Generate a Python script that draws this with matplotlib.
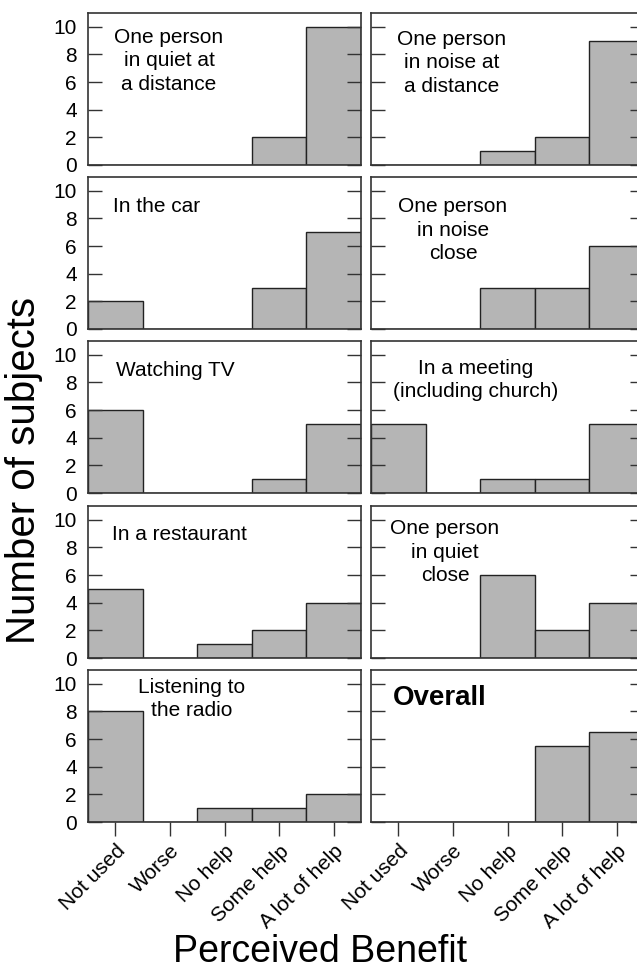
import numpy as np
import matplotlib
matplotlib.use('Agg')
import matplotlib.pyplot as plt

plt.rcParams['font.family'] = ['Liberation Sans', 'DejaVu Sans']

categories = ['Not used', 'Worse', 'No help', 'Some help', 'A lot of help']

# panels in reading order: (row, col)
titles = [
    'One person\nin quiet at\na distance', 'One person\nin noise at\na distance',
    'In the car', 'One person\nin noise\nclose',
    'Watching TV', 'In a meeting\n(including church)',
    'In a restaurant', 'One person\nin quiet\nclose',
    'Listening to\nthe radio', 'Overall',
]
counts = [
    [0, 0, 0, 2, 10], [0, 0, 1, 2, 9],
    [2, 0, 0, 3, 7], [0, 0, 3, 3, 6],
    [6, 0, 0, 1, 5], [5, 0, 1, 1, 5],
    [5, 0, 1, 2, 4], [0, 0, 6, 2, 4],
    [8, 0, 1, 1, 2], [0, 0, 0, 5.5, 6.5],
]

W, H = 637, 973
fig = plt.figure(figsize=(W / 100, H / 100), dpi=100)

col_x = [88, 371]
ax_w = 273
row_top = [13, 177, 341, 506, 670]
ax_h = 152

# label block centres in pixels (from top-left)
label_px = [(169, 61), (452, 63), (157, 207), (453, 230), (175, 370),
            (476, 380), (179, 535), (445, 552), (192, 699), (440, 698)]

x = np.arange(len(categories))
for k in range(10):
    r, c = divmod(k, 2)
    ax = fig.add_axes([col_x[c] / W, 1 - (row_top[r] + ax_h) / H, ax_w / W, ax_h / H])
    ax.bar(x, counts[k], width=1.0, color='#b5b5b5', edgecolor='#222222', linewidth=1.0)
    ax.set_xlim(-0.5, 4.5)
    ax.set_ylim(0, 11)
    ax.set_yticks(range(0, 11, 2))
    ax.tick_params(axis='y', direction='in', length=10, width=1.0, right=True,
                   labelsize=15, color='#333333', pad=8)
    if c == 1:
        ax.tick_params(axis='y', labelleft=False)
    if r == 4:
        ax.set_xticks(x)
        ax.set_xticklabels(categories, rotation=45, ha='right', rotation_mode='anchor', fontsize=15)
        ax.tick_params(axis='x', direction='out', length=10, width=1.0, color='#333333', pad=4)
    else:
        ax.set_xticks([])
    for s in ax.spines.values():
        s.set_linewidth(1.2)
        s.set_color('#333333')
    px, py = label_px[k]
    tx = (px - col_x[c]) / ax_w
    ty = (row_top[r] + ax_h - py) / ax_h
    if titles[k] == 'Overall':
        ax.text(tx, ty, titles[k], transform=ax.transAxes, ha='center', va='center',
                fontsize=20, fontweight='bold')
    else:
        ax.text(tx, ty, titles[k], transform=ax.transAxes, ha='center', va='center',
                fontsize=15, linespacing=1.3, multialignment='center')

fig.text(24 / W, 1 - 470 / H, 'Number of subjects', rotation=90, ha='center', va='center', fontsize=29)
fig.text(320 / W, 1 - 952 / H, 'Perceived Benefit', ha='center', va='center', fontsize=27)

fig.savefig('out.png', dpi=100)
